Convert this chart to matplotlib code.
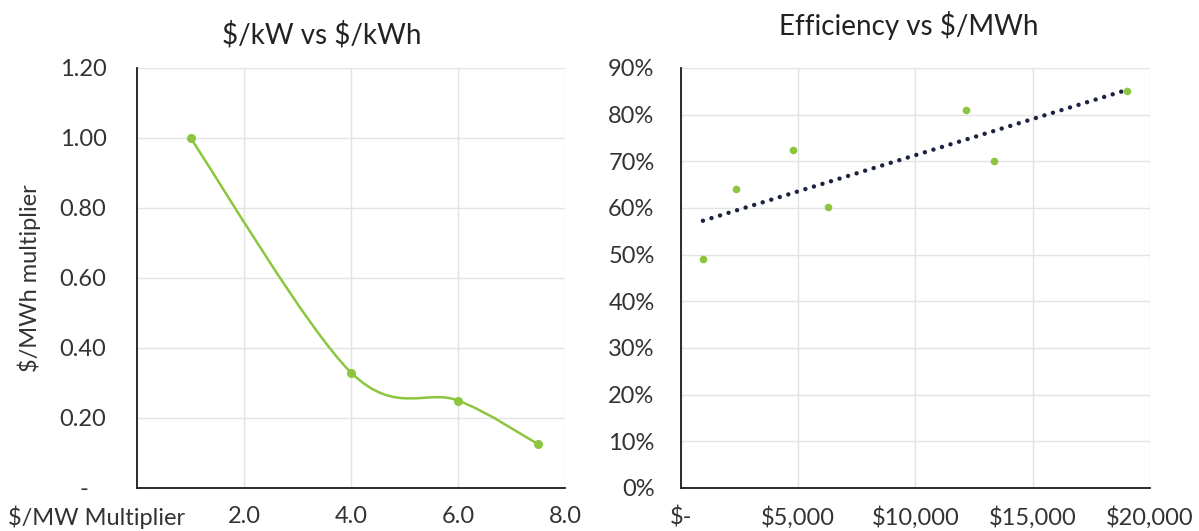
import numpy as np
import matplotlib
matplotlib.use("Agg")
import matplotlib.pyplot as plt
from matplotlib.path import Path
from matplotlib.patches import PathPatch

plt.rcParams['font.family'] = ['Lato', 'DejaVu Sans']
plt.rcParams['text.parse_math'] = False

# ---- data ----
mw_multiplier = [1.0, 4.0, 6.0, 7.5]
mwh_multiplier = [1.0, 0.33, 0.25, 0.125]

cost_mwh = [935, 2360, 4770, 6270, 12140, 13360, 19020]
efficiency = [0.491, 0.641, 0.724, 0.602, 0.811, 0.701, 0.850]

left_xticks = [2.0, 4.0, 6.0, 8.0]
left_xticklabels = ["2.0", "4.0", "6.0", "8.0"]
left_yticks = [0, 0.2, 0.4, 0.6, 0.8, 1.0, 1.2]
left_yticklabels = ["-   ", "0.20", "0.40", "0.60", "0.80", "1.00", "1.20"]
right_xticks = [0, 5000, 10000, 15000, 20000]
right_xticklabels = ["$-", "$5,000", "$10,000", "$15,000", "$20,000"]
right_yticks = [i / 10 for i in range(10)]
right_yticklabels = [f"{i*10}%" for i in range(10)]

GREEN = "#8cc63f"
NAVY = "#1c2340"
GRID = "#e3e3e3"
TXT = "#333333"
FS = 17

W, H = 1199, 531
fig = plt.figure(figsize=(W / 100, H / 100), dpi=100)
ax1 = fig.add_axes([137/W, 1-488/H, (565-137)/W, (488-68)/H])
ax2 = fig.add_axes([681/W, 1-488/H, (1150-681)/W, (488-68)/H])

for ax in (ax1, ax2):
    for s in ("top", "right"):
        ax.spines[s].set_visible(False)
    for s in ("left", "bottom"):
        ax.spines[s].set_color("#1a1a1a")
        ax.spines[s].set_linewidth(1.3)
    ax.grid(True, color=GRID, linewidth=1.0)
    ax.set_axisbelow(True)
    ax.tick_params(length=0, labelsize=FS, labelcolor=TXT)

# ---- left: smoothed line (Excel-style bezier through points) ----
pts = np.column_stack([mw_multiplier, mwh_multiplier])
verts = [tuple(pts[0])]
codes = [Path.MOVETO]
n = len(pts)
for i in range(n - 1):
    p0 = pts[i - 1] if i > 0 else pts[i]
    p1 = pts[i]
    p2 = pts[i + 1]
    p3 = pts[i + 2] if i + 2 < n else pts[i + 1]
    c1 = p1 + (p2 - p0) / 6
    c2 = p2 - (p3 - p1) / 6
    verts += [tuple(c1), tuple(c2), tuple(p2)]
    codes += [Path.CURVE4] * 3
ax1.add_patch(PathPatch(Path(verts, codes), facecolor="none", edgecolor=GREEN, linewidth=1.8))
ax1.plot(mw_multiplier, mwh_multiplier, "o", color=GREEN, markersize=5.5, linestyle="none")
ax1.set_xlim(0, 8)
ax1.set_ylim(0, 1.2)
ax1.set_xticks(left_xticks)
ax1.set_xticklabels(left_xticklabels)
ax1.set_yticks(left_yticks)
ax1.set_yticklabels(left_yticklabels)
ax1.tick_params(axis="y", pad=22)
ax1.tick_params(axis="x", pad=13)
ax1.set_ylabel("$/MWh multiplier", fontsize=FS, color=TXT)
ax1.yaxis.set_label_coords((41 - 137) / 428, 0.5)
fig.text(322/W, 1-35/H, "$/kW vs $/kWh", fontsize=20, color="#222222", ha="center", va="center")
fig.text(8/W, 1-517/H, "$/MW Multiplier", fontsize=FS, color=TXT, ha="left", va="center")

# ---- right: scatter + linear trendline ----
ax2.scatter(cost_mwh, efficiency, s=30, color=GREEN, zorder=3, linewidths=0)
coef = np.polyfit(cost_mwh, efficiency, 1)
xt = np.array([min(cost_mwh), max(cost_mwh)])
ax2.plot(xt, np.polyval(coef, xt), color=NAVY, linewidth=3.2,
         linestyle=(0, (0.01, 2.0)), dash_capstyle="round", zorder=2)
ax2.set_xlim(0, 20000)
ax2.set_ylim(0, 0.9)
ax2.set_xticks(right_xticks)
ax2.set_xticklabels(right_xticklabels)
ax2.set_yticks(right_yticks)
ax2.set_yticklabels(right_yticklabels)
ax2.tick_params(axis="y", pad=19)
ax2.tick_params(axis="x", pad=13)
fig.text(909/W, 1-26/H, "Efficiency vs $/MWh", fontsize=20, color="#222222", ha="center", va="center")

fig.savefig("out.png", dpi=100)
